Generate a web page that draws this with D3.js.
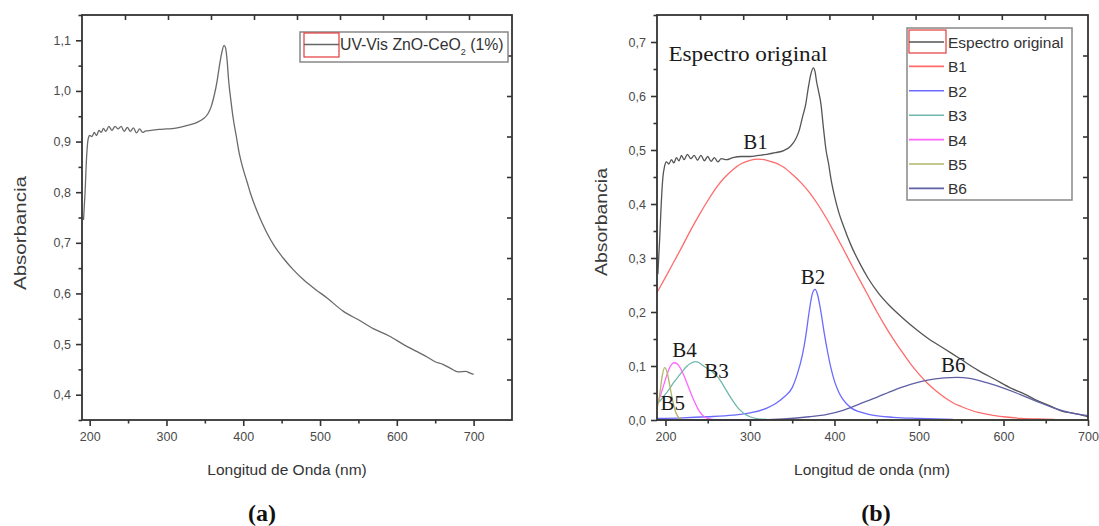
<!DOCTYPE html>
<html><head><meta charset="utf-8">
<script src="https://cdn.jsdelivr.net/npm/d3@7"></script>
<style>body{margin:0;background:#fff}svg{display:block}</style>
</head><body><svg id="c" width="1099" height="526"></svg>
<script>
// ---------- DATA ----------
// Panel (a): UV-Vis ZnO-CeO2 (1%)
const wlA  = [192,194,196,198,200,203,206,209,212,215,218,221,225,229,233,237,241,245,249,253,257,261,265,269,273,280,290,300,310,320,330,340,348,354,358,362,366,369,372,375,377,379,381,384,387,391,395,400,405,410,420,430,440,452,465,480,495,510,530,550,570,590,610,625,640,650,660,670,680,690,695,700];
const absA = [0.745,0.80,0.87,0.905,0.912,0.91,0.918,0.912,0.922,0.918,0.926,0.92,0.93,0.922,0.93,0.925,0.93,0.92,0.928,0.92,0.927,0.917,0.925,0.918,0.921,0.922,0.924,0.925,0.926,0.929,0.933,0.938,0.945,0.955,0.968,0.99,1.02,1.05,1.075,1.09,1.085,1.06,1.02,0.98,0.945,0.91,0.875,0.845,0.82,0.795,0.755,0.722,0.695,0.67,0.647,0.625,0.607,0.59,0.565,0.548,0.53,0.516,0.498,0.486,0.474,0.465,0.46,0.452,0.445,0.446,0.443,0.44];
const legendA = "UV-Vis ZnO-CeO";

// Panel (b): original spectrum + deconvoluted bands
const wlB  = [191,193,195,197,199,201,204,207,210,213,216,219,222,226,230,234,238,242,246,250,254,258,262,266,272,280,290,300,310,320,330,340,348,354,358,362,366,369,372,375,377,379,381,384,387,390,393,396,400,405,410,420,430,440,452,465,480,495,510,530,550,570,590,610,625,640,655,670,685,695,700];
const absB = [0.27,0.33,0.40,0.45,0.47,0.478,0.474,0.482,0.476,0.486,0.48,0.49,0.482,0.492,0.484,0.49,0.481,0.49,0.48,0.488,0.479,0.486,0.478,0.484,0.482,0.486,0.488,0.488,0.49,0.492,0.495,0.499,0.507,0.52,0.535,0.56,0.585,0.615,0.64,0.652,0.645,0.625,0.61,0.585,0.54,0.5,0.475,0.445,0.415,0.385,0.362,0.322,0.29,0.262,0.235,0.212,0.19,0.17,0.152,0.132,0.112,0.092,0.075,0.058,0.048,0.036,0.026,0.016,0.012,0.008,0.006];

const b1Wl = [190,200,210,220,230,240,250,260,270,280,290,300,310,320,330,340,350,360,370,380,390,400,410,420,430,440,450,460,470,480,490,500,510,520,530,540,550,560,570,580,590,600,620,640,660];
const b1Ab = [0.236,0.264,0.293,0.322,0.352,0.38,0.406,0.43,0.449,0.464,0.475,0.481,0.483,0.481,0.476,0.468,0.455,0.44,0.422,0.40,0.375,0.347,0.318,0.288,0.259,0.23,0.201,0.174,0.149,0.126,0.104,0.085,0.068,0.054,0.042,0.032,0.025,0.019,0.014,0.011,0.008,0.006,0.003,0.002,0.001];
const b2Wl = [190,220,250,280,300,320,330,340,350,356,362,366,370,374,377,380,384,388,392,396,400,405,410,420,430,445,470,500,540];
const b2Ab = [0.003,0.004,0.006,0.009,0.013,0.022,0.03,0.042,0.06,0.085,0.12,0.155,0.2,0.235,0.242,0.232,0.2,0.16,0.125,0.095,0.072,0.052,0.038,0.022,0.015,0.009,0.005,0.003,0.001];
const b3Wl = [190,195,200,205,210,215,220,225,230,235,240,245,250,255,260,265,270,275,280,285,290,295,300,310,320];
const b3Ab = [0.03,0.038,0.048,0.058,0.07,0.08,0.09,0.099,0.105,0.108,0.106,0.1,0.095,0.09,0.083,0.073,0.06,0.047,0.035,0.024,0.016,0.01,0.006,0.002,0.001];
const b4Wl = [190,194,198,202,206,210,214,218,222,226,230,234,238,242,246,250,255,260];
const b4Ab = [0.03,0.045,0.065,0.085,0.1,0.106,0.104,0.095,0.082,0.066,0.05,0.035,0.022,0.012,0.006,0.003,0.001,0];
const b5Wl = [190,193,196,199,202,205,208,211,214,218,222,300,400,500,600,700];
const b5Ab = [0.02,0.045,0.08,0.097,0.088,0.065,0.04,0.02,0.008,0.002,0,0,0,0,0,0];
const b6Wl = [190,300,340,370,390,410,430,450,470,490,510,530,545,560,580,600,620,640,660,680,700];
const b6Ab = [0,0,0.002,0.006,0.01,0.018,0.03,0.042,0.055,0.066,0.074,0.078,0.079,0.077,0.069,0.059,0.047,0.034,0.022,0.013,0.008];

const bandNames = ["B1","B2","B3","B4","B5","B6"];
const legendB = ["Espectro original","B1","B2","B3","B4","B5","B6"];
// annotation anchors in data units (wavelength, absorbance)
const annWl = [203.5,292,360,208,246,194,526];
const annAb = [0.665,0.502,0.251,0.117,0.078,0.019,0.089];
const annTx = ["Espectro original","B1","B2","B4","B3","B5","B6"];

const xTicks = [200,300,400,500,600,700];
const xMinor = [250,350,450,550,650];
const yTicksA = [0.4,0.5,0.6,0.7,0.8,0.9,1.0,1.1];
const yMinorA = [0.35,0.45,0.55,0.65,0.75,0.85,0.95,1.05,1.15];
const yTicksB = [0.0,0.1,0.2,0.3,0.4,0.5,0.6,0.7];
const yMinorB = [0.05,0.15,0.25,0.35,0.45,0.55,0.65,0.75];

// ---------- DRAW ----------
const svg = d3.select("#c");
const SANS = "'Liberation Sans', Arial, sans-serif";
const SERIF = "'Liberation Serif', 'Times New Roman', serif";
const fmt = d => d3.format(".1f")(d).replace(".", ",");

function frame(g, L, T, R, B, x, y, yT, yM) {
  const axC = "#333";
  const gx = g.append("g").attr("transform", `translate(0,${B})`)
    .call(d3.axisBottom(x).tickValues(xTicks).tickSize(6).tickPadding(6).tickFormat(d3.format("d")));
  const gxm = g.append("g").attr("transform", `translate(0,${B})`)
    .call(d3.axisBottom(x).tickValues(xMinor).tickSize(3.5).tickFormat(""));
  const gy = g.append("g").attr("transform", `translate(${L},0)`)
    .call(d3.axisLeft(y).tickValues(yT).tickSize(6).tickPadding(5).tickFormat(fmt));
  const gym = g.append("g").attr("transform", `translate(${L},0)`)
    .call(d3.axisLeft(y).tickValues(yM.filter(v => y(v) >= T - 0.5)).tickSize(3.5).tickFormat(""));
  // mirrored linked axes (equal divisions)
  const t = d3.scaleLinear([0, 10], [L, R]);
  const r = d3.scaleLinear([0, 10], [B, T]);
  const gt = g.append("g").attr("transform", `translate(0,${T})`)
    .call(d3.axisTop(t).tickValues(d3.range(1, 10)).tickSize(-5).tickFormat(""));
  const gr = g.append("g").attr("transform", `translate(${R},0)`)
    .call(d3.axisRight(r).tickValues(d3.range(1, 10)).tickSize(-5).tickFormat(""));
  [gx, gxm, gy, gym, gt, gr].forEach(a => {
    a.select(".domain").remove();
    a.selectAll("line").attr("stroke", axC).attr("stroke-width", 1.6);
    a.selectAll("text").attr("fill", "#4a4a4a").style("font-family", SANS).style("font-size", "12.5px");
  });
  g.append("rect").attr("x", L).attr("y", T).attr("width", R - L).attr("height", B - T)
    .attr("fill", "none").attr("stroke", axC).attr("stroke-width", 1.8);
}

function lineOf(x, y, wl, ab) {
  return d3.line().x((d, i) => x(wl[i])).y((d, i) => y(ab[i])).curve(d3.curveMonotoneX)(ab);
}

// ----- Panel (a)
{
  const L = 82, T = 15, R = 512, B = 420;
  const x = d3.scaleLinear([190, 750], [L, R]);
  const y = d3.scaleLinear([0.35, 1.15], [B, T]);
  const g = svg.append("g");
  g.append("path").attr("d", lineOf(x, y, wlA, absA)).attr("fill", "none")
    .attr("stroke", "#6a6a6a").attr("stroke-width", 1.3);
  frame(g, L, T, R, B, x, y, yTicksA, yMinorA);
  g.append("text").attr("transform", "translate(26,233) rotate(-90)").attr("text-anchor", "middle")
    .attr("textLength", 114).attr("lengthAdjust", "spacingAndGlyphs")
    .style("font-family", SANS).style("font-size", "16px").attr("fill", "#3a3a3a").text("Absorbancia");
  g.append("text").attr("x", 287).attr("y", 475).attr("text-anchor", "middle")
    .style("font-family", SANS).style("font-size", "15.5px").attr("fill", "#333").text("Longitud de Onda (nm)");
  g.append("text").attr("x", 262).attr("y", 521).attr("text-anchor", "middle")
    .style("font-family", SERIF).style("font-size", "24px").style("font-weight", "bold").attr("fill", "#111").text("(a)");
  // legend
  const lg = g.append("g");
  lg.append("rect").attr("x", 300).attr("y", 32).attr("width", 208).attr("height", 30)
    .attr("fill", "#fff").attr("stroke", "#888").attr("stroke-width", 1.5);
  lg.append("rect").attr("x", 304).attr("y", 33).attr("width", 35).attr("height", 24)
    .attr("fill", "none").attr("stroke", "#e23b3b").attr("stroke-width", 1.2);
  lg.append("line").attr("x1", 304).attr("x2", 339).attr("y1", 44.5).attr("y2", 44.5)
    .attr("stroke", "#666").attr("stroke-width", 1.5);
  const lt = lg.append("text").attr("x", 340).attr("y", 50).style("font-family", SANS)
    .style("font-size", "15.8px").attr("fill", "#333");
  lt.append("tspan").text(legendA);
  lt.append("tspan").attr("dy", 5).style("font-size", "9px").text("2");
  lt.append("tspan").attr("dy", -5).text(" (1%)");
}

// ----- Panel (b)
{
  const L = 657, T = 15, R = 1088, B = 420;
  const x = d3.scaleLinear([190, 700], [L, R]);
  const y = d3.scaleLinear([0, 0.75], [B, T]);
  const g = svg.append("g");
  const colors = ["#ff6b6b", "#6b6bff", "#6fb8ae", "#ff66ff", "#b3b36b", "#5f5fa6"];
  const series = [[b1Wl, b1Ab], [b2Wl, b2Ab], [b3Wl, b3Ab], [b4Wl, b4Ab], [b5Wl, b5Ab], [b6Wl, b6Ab]];
  g.append("path").attr("d", lineOf(x, y, wlB, absB)).attr("fill", "none")
    .attr("stroke", "#555").attr("stroke-width", 1.3);
  series.forEach((s, i) => {
    g.append("path").attr("d", lineOf(x, y, s[0], s[1])).attr("fill", "none")
      .attr("stroke", colors[i]).attr("stroke-width", 1.3);
  });
  frame(g, L, T, R, B, x, y, yTicksB, yMinorB);
  g.append("text").attr("transform", "translate(607,222) rotate(-90)").attr("text-anchor", "middle")
    .attr("textLength", 108).attr("lengthAdjust", "spacingAndGlyphs")
    .style("font-family", SANS).style("font-size", "16px").attr("fill", "#3a3a3a").text("Absorbancia");
  g.append("text").attr("x", 872).attr("y", 475).attr("text-anchor", "middle")
    .style("font-family", SANS).style("font-size", "15.5px").attr("fill", "#333").text("Longitud de onda (nm)");
  g.append("text").attr("x", 876).attr("y", 521).attr("text-anchor", "middle")
    .style("font-family", SERIF).style("font-size", "24px").style("font-weight", "bold").attr("fill", "#111").text("(b)");
  // annotations
  annTx.forEach((t, i) => {
    const el = g.append("text").attr("x", x(annWl[i])).attr("y", y(annAb[i]))
      .style("font-family", SERIF).style("font-size", "21px").attr("fill", "#1a1a1a").text(t);
    if (i === 0) el.attr("textLength", 159).attr("lengthAdjust", "spacingAndGlyphs");
  });
  // legend
  const lg = g.append("g");
  lg.append("rect").attr("x", 907).attr("y", 28).attr("width", 165).attr("height", 172)
    .attr("fill", "#fff").attr("stroke", "#888").attr("stroke-width", 1.5);
  lg.append("rect").attr("x", 909).attr("y", 30).attr("width", 37).attr("height", 23)
    .attr("fill", "none").attr("stroke", "#e23b3b").attr("stroke-width", 1.2);
  const legColors = ["#555"].concat(colors);
  legendB.forEach((t, i) => {
    const yy = 42 + i * 24.4;
    lg.append("line").attr("x1", 909).attr("x2", 944).attr("y1", yy).attr("y2", yy)
      .attr("stroke", legColors[i]).attr("stroke-width", 1.6);
    lg.append("text").attr("x", 948).attr("y", yy + 6).style("font-family", SANS)
      .style("font-size", "15.5px").attr("fill", "#333").text(t);
  });
}
</script></body></html>
